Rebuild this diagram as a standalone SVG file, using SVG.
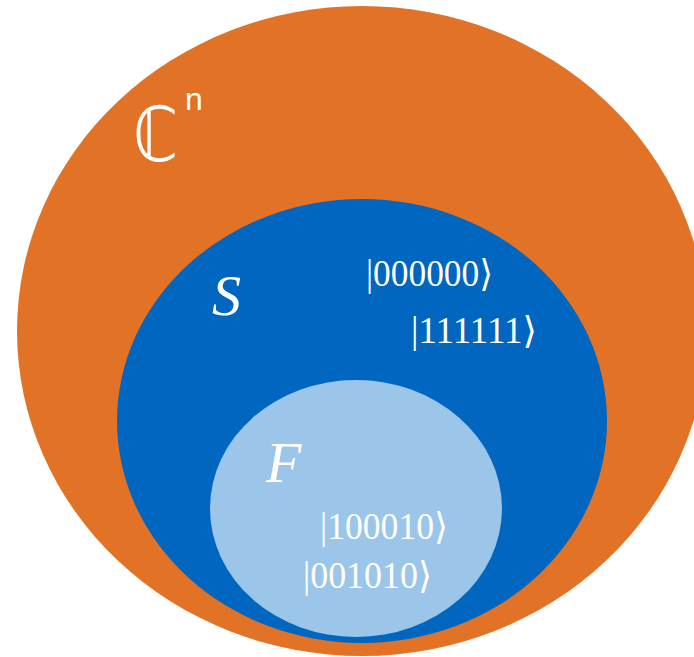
<svg xmlns="http://www.w3.org/2000/svg" width="694" height="657" viewBox="0 0 694 657">
  <style>
    .lbl { fill: #ffffff; font-family: "Liberation Serif", "DejaVu Serif", serif; }
    .it { font-style: italic; font-size: 58px; }
    .ket { font-size: 37px; }
    .cset { font-family: "DejaVu Sans", "DejaVu Serif", sans-serif; font-size: 76px; }
    .sup { font-family: "Liberation Sans", "Open Sans", sans-serif; font-size: 32px; }
  </style>
  <rect width="694" height="657" fill="#ffffff"/>
  <g id="node-Cn">
    <ellipse cx="362" cy="331" rx="345" ry="325" fill="#E27326"/>
    <text class="lbl cset" x="133" y="161" textLength="45" lengthAdjust="spacingAndGlyphs">ℂ</text>
    <text class="lbl sup" x="185" y="110">n</text>
  </g>
  <g id="node-S">
    <ellipse cx="362" cy="421" rx="245" ry="222" fill="#0066BF"/>
    <text class="lbl it" x="212" y="315">S</text>
    <text class="lbl ket" x="366" y="286" textLength="127" lengthAdjust="spacingAndGlyphs">|000000⟩</text>
    <text class="lbl ket" x="411" y="343" textLength="126" lengthAdjust="spacingAndGlyphs">|111111⟩</text>
  </g>
  <g id="node-F">
    <ellipse cx="356" cy="508.5" rx="146" ry="128.5" fill="#9BC6EA"/>
    <text class="lbl it" x="266" y="482">F</text>
    <text class="lbl ket" x="320" y="539" textLength="128" lengthAdjust="spacingAndGlyphs">|100010⟩</text>
    <text class="lbl ket" x="303" y="588" textLength="129" lengthAdjust="spacingAndGlyphs">|001010⟩</text>
  </g>
  <g id="connectors"/>
</svg>
